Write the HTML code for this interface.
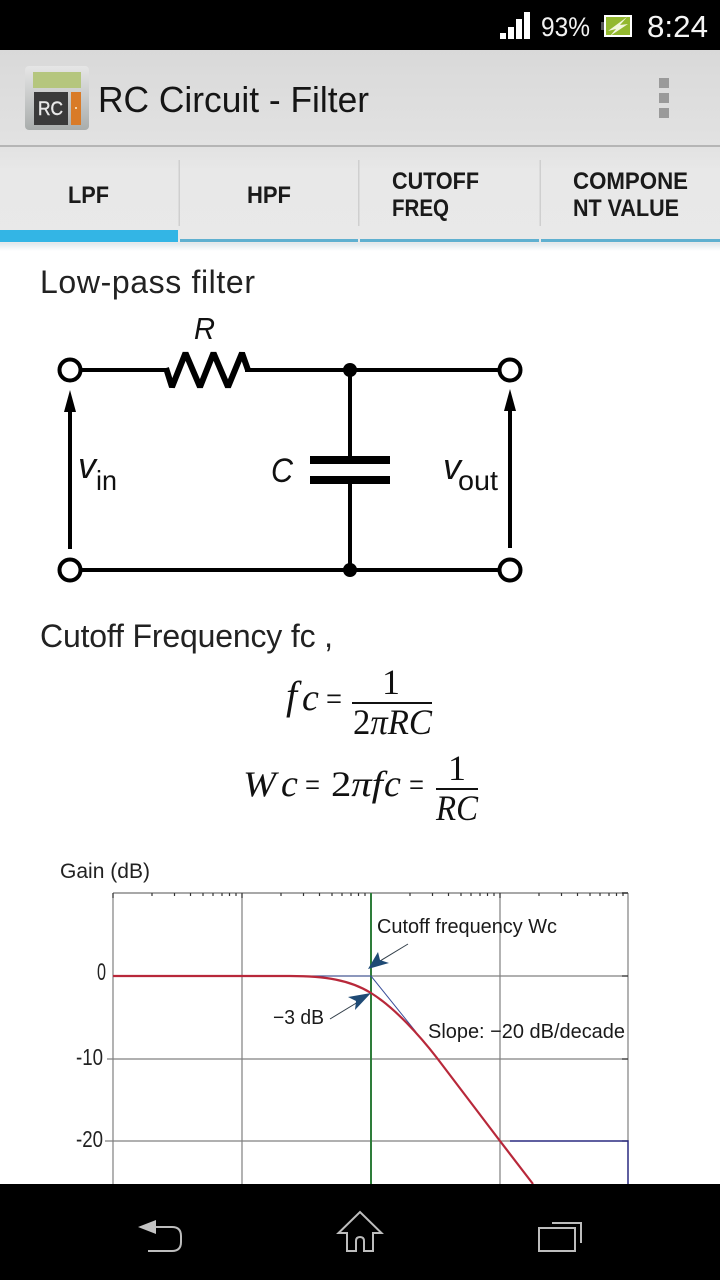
<!DOCTYPE html>
<html>
<head>
<meta charset="utf-8">
<style>
html,body{margin:0;padding:0;background:#fff;width:720px;height:1280px;overflow:hidden}
svg{display:block}
text{font-family:"Liberation Sans",sans-serif;fill:#111}
.ser{font-family:"Liberation Serif",serif;font-size:36px;fill:#111}
.it{font-style:italic}
.tab{font-size:24px;font-weight:bold;fill:#1a1a1a}
</style>
</head>
<body>
<svg width="720" height="1280" viewBox="0 0 720 1280" xmlns="http://www.w3.org/2000/svg">
<defs>
<linearGradient id="ab" x1="0" y1="0" x2="0" y2="1"><stop offset="0" stop-color="#d9d9d9"/><stop offset="1" stop-color="#e2e2e2"/></linearGradient>
<linearGradient id="tb" x1="0" y1="0" x2="0" y2="1"><stop offset="0" stop-color="#e2e2e2"/><stop offset="0.25" stop-color="#e8e8e8"/><stop offset="1" stop-color="#e9e9e9"/></linearGradient>
<linearGradient id="sh" x1="0" y1="0" x2="0" y2="1"><stop offset="0" stop-color="#dfe8ec"/><stop offset="1" stop-color="#ffffff"/></linearGradient>
<linearGradient id="ic" x1="0" y1="0" x2="0" y2="1"><stop offset="0" stop-color="#e6e6e6"/><stop offset="1" stop-color="#a9adac"/></linearGradient>
</defs>
<rect width="720" height="1280" fill="#fff"/>

<!-- status bar -->
<rect width="720" height="50" fill="#000"/>
<g fill="#fff">
<rect x="500" y="33" width="6" height="6"/><rect x="508" y="27" width="6" height="12"/><rect x="516" y="19" width="6" height="20"/><rect x="524" y="12" width="6" height="27"/>
</g>
<text x="541" y="36" font-size="27" textLength="49" lengthAdjust="spacingAndGlyphs" style="fill:#f2f2f2">93%</text>
<rect x="605" y="16" width="26" height="20" fill="#93b82f" stroke="#fff" stroke-width="2"/>
<rect x="601" y="22" width="3" height="8" fill="#555"/>
<path d="M627 17 L608 31 L616 29 L610 36 L628 24 L620 25 Z" fill="#f2f6dc"/>
<text x="647" y="37" font-size="31" textLength="61" lengthAdjust="spacingAndGlyphs" style="fill:#f5f5f5">8:24</text>

<!-- action bar -->
<rect y="50" width="720" height="96" fill="url(#ab)"/>
<rect y="145" width="720" height="2" fill="#b5b5b5"/>
<rect x="25" y="66" width="64" height="64" rx="4" fill="url(#ic)"/>
<rect x="33" y="72" width="48" height="16" fill="#b5c67e"/>
<rect x="34" y="92" width="34" height="33" fill="#3a3a3a"/>
<rect x="71" y="92" width="10" height="33" fill="#d97b28"/>
<rect x="75" y="107" width="2" height="2" fill="#f3d3a8"/>
<text x="38" y="115" font-size="19" textLength="25" lengthAdjust="spacingAndGlyphs" style="fill:#e8e8e8;stroke:#e8e8e8;stroke-width:.4">RC</text>
<text x="98" y="112" font-size="36" textLength="271" lengthAdjust="spacingAndGlyphs" style="fill:#151515">RC Circuit - Filter</text>
<g fill="#9a9a9a"><rect x="659" y="78" width="10" height="10"/><rect x="659" y="93" width="10" height="10"/><rect x="659" y="108" width="10" height="10"/></g>

<!-- tabs -->
<rect y="147" width="720" height="96" fill="url(#tb)"/>
<g fill="#cfcfcf"><rect x="178.500" y="160" width="1.500" height="66"/><rect x="358" y="160" width="1.500" height="66"/><rect x="539.500" y="160" width="1.500" height="66"/></g>
<text class="tab" x="68" y="203" textLength="41" lengthAdjust="spacingAndGlyphs">LPF</text>
<text class="tab" x="247" y="203" textLength="44" lengthAdjust="spacingAndGlyphs">HPF</text>
<text class="tab" x="392" y="189" textLength="87" lengthAdjust="spacingAndGlyphs">CUTOFF</text>
<text class="tab" x="392" y="216" textLength="57" lengthAdjust="spacingAndGlyphs">FREQ</text>
<text class="tab" x="573" y="189" textLength="115" lengthAdjust="spacingAndGlyphs">COMPONE</text>
<text class="tab" x="573" y="216" textLength="106" lengthAdjust="spacingAndGlyphs">NT VALUE</text>
<rect y="243" width="720" height="8" fill="url(#sh)"/>
<rect x="0" y="230" width="178" height="12" fill="#33b5e5"/>
<g fill="#5fb0d0">
<rect x="180" y="239" width="178" height="3"/><rect x="360" y="239" width="179" height="3"/><rect x="541" y="239" width="179" height="3"/>
</g>

<!-- heading -->
<text x="40" y="293" font-size="32" textLength="215" lengthAdjust="spacing" style="fill:#222">Low-pass filter</text>

<!-- circuit -->
<g fill="none" stroke="#000" stroke-width="4">
<path d="M80 370 H168 M245 370 H499"/>
<path d="M166 368 L172 387 L185.500 353 L200 387 L213.500 353 L228 387 L242 353 L248 370" stroke-width="6" stroke-linejoin="bevel"/>
<path d="M80 570 H499"/>
<path d="M350 370 V458 M350 482 V570"/>
<circle cx="70" cy="370" r="10.500"/><circle cx="510" cy="370" r="10.500"/>
<circle cx="70" cy="570" r="10.500"/><circle cx="510" cy="570" r="10.500"/>
<path d="M70 549 V408 M510 548 V408"/>
</g>
<g fill="#000">
<circle cx="350" cy="370" r="7"/><circle cx="350" cy="570" r="7"/>
<rect x="310" y="456" width="80" height="8"/><rect x="310" y="476" width="80" height="8"/>
<path d="M70 390 L76 412 H64 Z M510 389 L516 411 H504 Z"/>
</g>
<text class="it" x="194" y="339" font-size="31" textLength="21" lengthAdjust="spacingAndGlyphs">R</text>
<text class="it" x="78" y="478" font-size="36" textLength="18" lengthAdjust="spacingAndGlyphs">v</text>
<text x="96" y="490" font-size="28" textLength="21" lengthAdjust="spacingAndGlyphs">in</text>
<text class="it" x="271" y="482" font-size="34" textLength="22" lengthAdjust="spacingAndGlyphs">C</text>
<text class="it" x="443" y="479" font-size="36" textLength="18" lengthAdjust="spacingAndGlyphs">v</text>
<text x="458" y="490" font-size="28" textLength="40" lengthAdjust="spacingAndGlyphs">out</text>

<text x="40" y="647" font-size="32" textLength="293" lengthAdjust="spacing" style="fill:#222">Cutoff Frequency fc ,</text>

<!-- equations -->
<text class="ser it" x="286" y="709" style="font-size:40px">f</text>
<text class="ser it" x="302" y="710" style="font-size:38px">c</text>
<text class="ser" x="326" y="710" style="font-size:34px" textLength="16" lengthAdjust="spacingAndGlyphs">=</text>
<text class="ser" x="382" y="694">1</text>
<rect x="352" y="702" width="80" height="2" fill="#111"/>
<text class="ser" x="353" y="734" textLength="79" lengthAdjust="spacingAndGlyphs">2<tspan class="it">πRC</tspan></text>
<text class="ser it" x="243" y="796" textLength="33" lengthAdjust="spacingAndGlyphs">W</text>
<text class="ser it" x="281" y="796" style="font-size:38px">c</text>
<text class="ser" x="305" y="796" style="font-size:34px" textLength="15" lengthAdjust="spacingAndGlyphs">=</text>
<text class="ser" x="331" y="796" textLength="52" lengthAdjust="spacingAndGlyphs">2<tspan class="it">πf</tspan></text>
<text class="ser it" x="384" y="796" style="font-size:38px">c</text>
<text class="ser" x="409" y="796" style="font-size:34px" textLength="15" lengthAdjust="spacingAndGlyphs">=</text>
<text class="ser" x="448" y="780">1</text>
<rect x="436" y="788" width="42" height="2" fill="#111"/>
<text class="ser it" x="436" y="820" textLength="42" lengthAdjust="spacingAndGlyphs">RC</text>

<!-- graph -->
<text x="60" y="878" font-size="21.500" textLength="90" lengthAdjust="spacingAndGlyphs" style="fill:#222">Gain (dB)</text>
<rect x="113" y="892" width="515" height="2" fill="#a8a8a8"/>
<g stroke="#808080" stroke-width="1.200" fill="none">
<path d="M113 893 V1184 M242 893 V1184 M500 893 V1184 M628 893 V1141"/>
<path d="M113 976 H628 M107 1059 H628 M105 1141 H510"/>
</g>
<g stroke="#333" stroke-width="1.200" fill="none">
<path d="M113 893 v5 m39 -5 v3 m22.500 -3 v3 m16 -3 v3 m12.500 -3 v3 m10 -3 v3 m9 -3 v3 m7.500 -3 v3 m6.500 -3 v3 M242 893 v5 m39 -5 v3 m22.500 -3 v3 m16 -3 v3 m12.500 -3 v3 m10 -3 v3 m9 -3 v3 m7.500 -3 v3 m6.500 -3 v3"/>
<path d="M371 893 v5 m39 -5 v3 m22.500 -3 v3 m16 -3 v3 m12.500 -3 v3 m10 -3 v3 m9 -3 v3 m7.500 -3 v3 m6.500 -3 v3 M500 893 v5 m39 -5 v3 m22.500 -3 v3 m16 -3 v3 m12.500 -3 v3 m10 -3 v3 m9 -3 v3 m7.500 -3 v3 m6.500 -3 v3 M628 893 h-6"/>
<path d="M622 976 H628 M622 1059 H628 M622 1141 H628"/>
</g>
<rect x="370" y="893" width="2" height="291" fill="#2e7d3a"/>
<path d="M300 976 H371 L416 1032" fill="none" stroke="#3a4f9a" stroke-width="1"/>
<path d="M510 1141 H628 V1184" fill="none" stroke="#2a2a80" stroke-width="1.500"/>
<path d="M113 976 H290 C325 976 350 980 371 993 C395 1008 420 1036 437 1058 L500 1141 L533 1184" fill="none" stroke="#b8283a" stroke-width="2.200"/>
<g stroke="#333f4a" stroke-width="1" fill="none"><path d="M330 1019 L358 1002 M408 944 L380 961"/></g>
<path d="M371 993 L348 997 L356 1001 L355 1010 Z M368 969 L378 952 L380 960 L389 963 Z" fill="#1f4a75"/>
<text x="377" y="933" font-size="20" textLength="180" lengthAdjust="spacingAndGlyphs" style="fill:#1a1a1a">Cutoff frequency Wc</text>
<text x="273" y="1024" font-size="20" textLength="51" lengthAdjust="spacingAndGlyphs" style="fill:#1a1a1a">−3 dB</text>
<text x="428" y="1038" font-size="20.500" textLength="197" lengthAdjust="spacingAndGlyphs" style="fill:#1a1a1a">Slope: −20 dB/decade</text>
<text x="97" y="980" font-size="24" textLength="9" lengthAdjust="spacingAndGlyphs" style="fill:#222">0</text>
<text x="76" y="1065" font-size="23" textLength="27" lengthAdjust="spacingAndGlyphs" style="fill:#222">-10</text>
<text x="76" y="1147" font-size="23" textLength="27" lengthAdjust="spacingAndGlyphs" style="fill:#222">-20</text>

<!-- nav bar -->
<rect y="1184" width="720" height="96" fill="#000"/>
<g fill="none" stroke="#bdbdbd" stroke-width="2">
<path d="M155 1227 H172 Q181 1227 181 1236 V1242 Q181 1251 172 1251 H148"/>
<path d="M348 1233 H338.500 L360 1212 L381.500 1233 H373 V1251 H364 V1241 Q364 1237 360 1237 Q356 1237 356 1241 V1251 H347 V1233"/>
<rect x="539" y="1228" width="36" height="23"/>
<path d="M552 1223 H581 V1243"/>
</g>
<path d="M138 1227 L156 1220 V1234 Z" fill="#c4c4c4"/>
</svg>
</body>
</html>
